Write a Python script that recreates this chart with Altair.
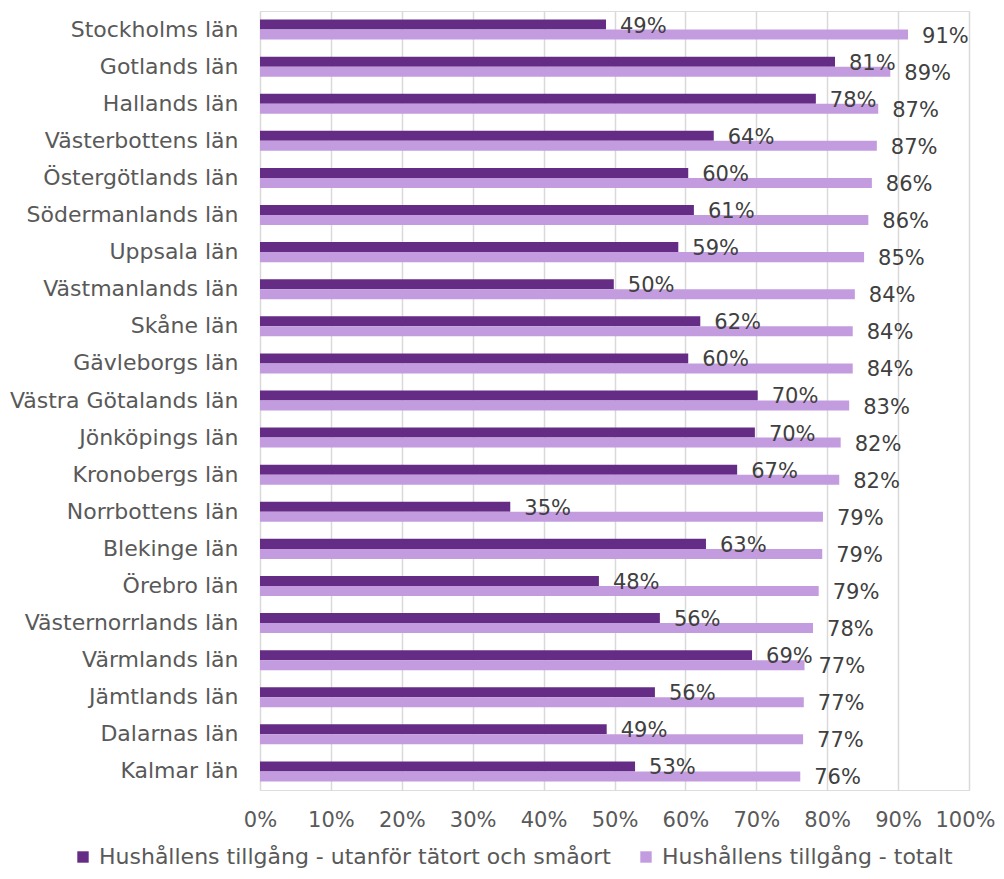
import altair as alt
import pandas as pd

counties = [
    "Stockholms län", "Gotlands län", "Hallands län", "Västerbottens län",
    "Östergötlands län", "Södermanlands län", "Uppsala län", "Västmanlands län",
    "Skåne län", "Gävleborgs län", "Västra Götalands län", "Jönköpings län",
    "Kronobergs län", "Norrbottens län", "Blekinge län", "Örebro län",
    "Västernorrlands län", "Värmlands län", "Jämtlands län", "Dalarnas län",
    "Kalmar län",
]
utanfor = [0.488, 0.811, 0.784, 0.640, 0.604, 0.612, 0.590, 0.499, 0.621, 0.604,
           0.702, 0.698, 0.673, 0.353, 0.629, 0.478, 0.564, 0.694, 0.557, 0.489,
           0.529]
totalt = [0.914, 0.889, 0.872, 0.870, 0.863, 0.858, 0.852, 0.839, 0.836, 0.836,
          0.831, 0.819, 0.817, 0.794, 0.793, 0.788, 0.780, 0.768, 0.767, 0.766,
          0.762]
series = ["Hushållens tillgång - utanför tätort och småort",
          "Hushållens tillgång - totalt"]
colors = ["#652C85", "#C39BDF"]
x_ticks = [i / 10 for i in range(11)]

rows = []
for c, a, b in zip(counties, utanfor, totalt):
    rows.append({"county": c, "series": series[0], "value": a})
    rows.append({"county": c, "series": series[1], "value": b})
df = pd.DataFrame(rows)

FONT = "DejaVu Sans"
FS = 21

y_enc = alt.Y("county:N", sort=counties, title=None,
              scale=alt.Scale(paddingInner=0.46, paddingOuter=0.23),
              axis=alt.Axis(labelFontSize=22, labelColor="#595959", labelFont=FONT,
                            labelPadding=22, ticks=False, domain=False, grid=False,
                            labelLimit=300))
yoff = alt.YOffset("series:N", sort=series)
x_enc = alt.X("value:Q", title=None,
              scale=alt.Scale(domain=[0, 1], nice=False),
              axis=alt.Axis(format=".0%", values=x_ticks,
                            labelFontSize=FS, labelColor="#595959", labelFont=FONT,
                            labelPadding=19, ticks=False, domain=False,
                            labelOffset={"condition": {"test": "datum.value >= 1", "value": -4},
                                         "value": 0},
                            labelOverlap=False, labelFlush=False, labelBound=False,
                            grid=True, gridColor="#D9D9D9", gridWidth=1.5))

bars = alt.Chart(df).mark_bar().encode(
    y=y_enc, yOffset=yoff, x=x_enc,
    color=alt.Color("series:N", sort=series,
                    scale=alt.Scale(domain=series, range=colors),
                    legend=alt.Legend(title=None, orient="none", direction="horizontal",
                                      legendX=-188, legendY=835,
                                      symbolType="square", symbolSize=130,
                                      symbolStrokeWidth=0, labelFontSize=22,
                                      labelColor="#595959", labelFont=FONT,
                                      labelLimit=700, columnPadding=24,
                                      labelOffset=5)),
)

labels = alt.Chart(df).mark_text(align="left", baseline="middle", dx=14, dy=2,
                                 fontSize=FS, font=FONT, color="#404040").encode(
    y=alt.Y("county:N", sort=counties),
    yOffset=yoff,
    x=alt.X("value:Q"),
    text=alt.Text("value:Q", format=".0%"),
)

chart = (bars + labels).properties(
    width=709, height=779,
    autosize=alt.AutoSizeParams(type="none"),
    padding={"left": 252, "top": 3, "right": 27, "bottom": 81},
).configure_view(stroke=None).configure(font=FONT)

chart.save("out.html", embed_options={"renderer": "svg", "actions": False})
